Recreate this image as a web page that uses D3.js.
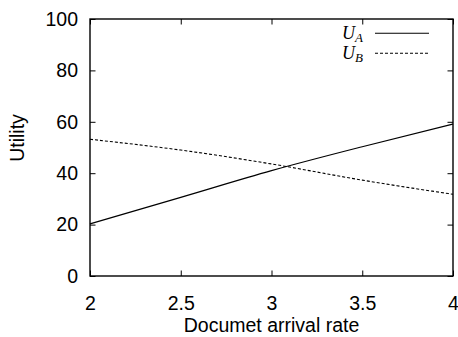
<!DOCTYPE html>
<html>
<head>
<meta charset="utf-8">
<script src="https://cdn.jsdelivr.net/npm/d3@7"></script>
<style>
  body { margin: 0; background: #fff; }
  svg { display: block; }
  .tick text { font-family: "Liberation Sans", Arial, sans-serif; font-size: 19.5px; fill: #000; }
</style>
</head>
<body>
<script>
// values
const rates = [2, 2.5, 3, 3.5, 4];
const utilA = [20.3, 30.6, 41.0, 50.3, 59.1];
const utilB = [53.2, 49.0, 43.6, 37.3, 31.8];
const xTicks = [2, 2.5, 3, 3.5, 4];
const yTicks = [0, 20, 40, 60, 80, 100];

const svgDims = { width: 458, height: 337 };
const margin = { top: 19, right: 5, bottom: 61, left: 90 };
const graphWidth = svgDims.width - margin.left - margin.right;
const graphHeight = svgDims.height - margin.top - margin.bottom;

const svg = d3.select('body').append('svg')
  .attr('width', svgDims.width)
  .attr('height', svgDims.height);

const graph = svg.append('g')
  .attr('transform', `translate(${margin.left},${margin.top})`);

const x = d3.scaleLinear().domain([2, 4]).range([0, graphWidth]);
const y = d3.scaleLinear().domain([0, 100]).range([graphHeight, 0]);

// axes, gnuplot style: inward ticks mirrored on all sides
const tickLen = 5.5;
graph.append('g')
  .attr('transform', `translate(0,${graphHeight})`)
  .call(d3.axisBottom(x).tickValues(xTicks).tickSize(-tickLen).tickPadding(20).tickFormat(d3.format('')));
graph.append('g')
  .call(d3.axisLeft(y).tickValues(yTicks).tickSize(-tickLen).tickPadding(12));
graph.append('g')
  .call(d3.axisTop(x).tickValues(xTicks).tickSize(-tickLen).tickFormat(''));
graph.append('g')
  .attr('transform', `translate(${graphWidth},0)`)
  .call(d3.axisRight(y).tickValues(yTicks).tickSize(-tickLen).tickFormat(''));

graph.selectAll('.domain').remove();
graph.selectAll('.tick line').attr('stroke', '#000').attr('stroke-width', 1);

// border
graph.append('rect')
  .attr('width', graphWidth)
  .attr('height', graphHeight)
  .attr('fill', 'none')
  .attr('stroke', '#000')
  .attr('stroke-width', 1.4);

const line = vals => d3.line()
  .x((d, i) => x(rates[i]))
  .y(d => y(d))
  .curve(d3.curveMonotoneX)(vals);

graph.append('path')
  .attr('d', line(utilA))
  .attr('fill', 'none')
  .attr('stroke', '#000')
  .attr('stroke-width', 1.2);

graph.append('path')
  .attr('d', line(utilB))
  .attr('fill', 'none')
  .attr('stroke', '#000')
  .attr('stroke-width', 1.1)
  .attr('stroke-dasharray', '3,2');

// axis titles
svg.append('text')
  .attr('x', margin.left + graphWidth / 2)
  .attr('y', 332)
  .attr('text-anchor', 'middle')
  .style('font-family', '"Liberation Sans", Arial, sans-serif')
  .style('font-size', '19.5px')
  .text('Documet arrival rate');

svg.append('text')
  .attr('transform', 'translate(24,138) rotate(-90)')
  .attr('text-anchor', 'middle')
  .style('font-family', '"Liberation Sans", Arial, sans-serif')
  .style('font-size', '19.5px')
  .text('Utility');

// legend
const legendItems = [
  { sub: 'A', dash: null },
  { sub: 'B', dash: '3,2' }
];
const legend = svg.append('g');
legendItems.forEach((item, i) => {
  const ly = 33.3 + i * 20;
  const t = legend.append('text')
    .attr('x', 363)
    .attr('y', ly + 6)
    .attr('text-anchor', 'end')
    .style('font-family', '"Liberation Serif", "Times New Roman", serif')
    .style('font-style', 'italic')
    .style('font-size', '18px');
  t.append('tspan').text('U');
  t.append('tspan')
    .attr('dy', 3)
    .style('font-size', '13px')
    .text(item.sub);
  legend.append('line')
    .attr('x1', 375).attr('x2', 429)
    .attr('y1', ly).attr('y2', ly)
    .attr('stroke', '#000')
    .attr('stroke-width', 1.1)
    .attr('stroke-dasharray', item.dash);
});
</script>
</body>
</html>
